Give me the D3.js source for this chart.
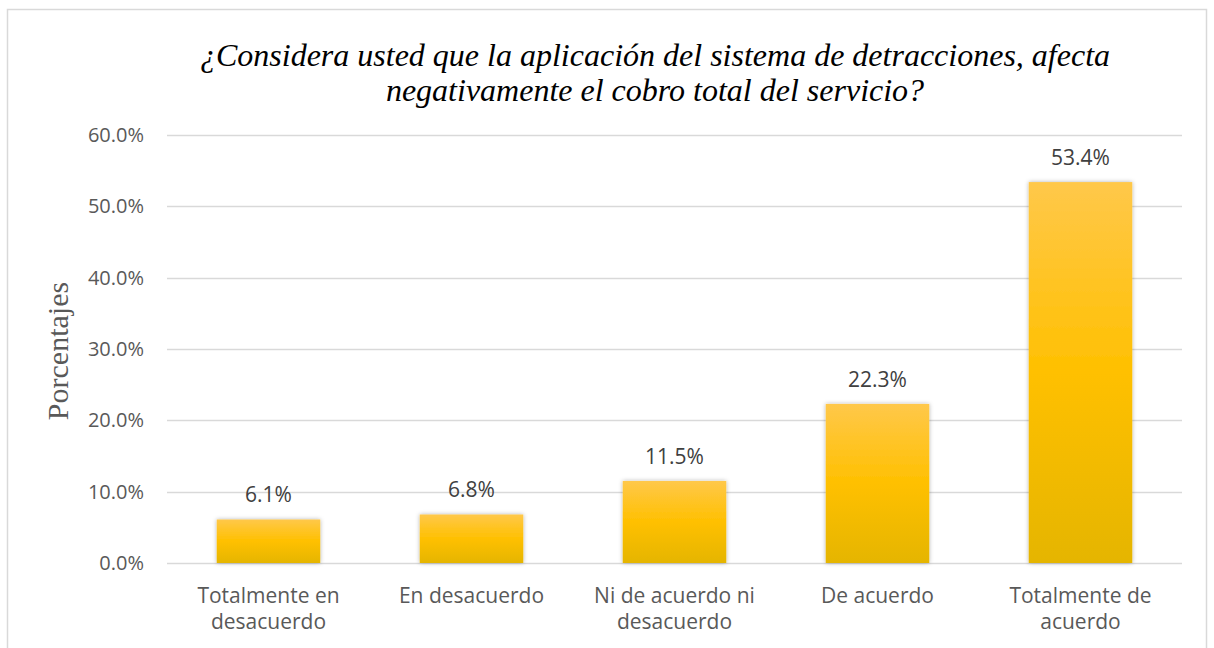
<!DOCTYPE html>
<html>
<head>
<meta charset="utf-8">
<script src="https://cdn.jsdelivr.net/npm/d3@7"></script>
<style>
  body { margin: 0; background: #fff; }
  svg text { font-family: "Open Sans", "Liberation Sans", Arial, sans-serif; }
</style>
</head>
<body>
<div id="root"></div>
<script>
// categorias y valores
const categories = [
    ["Totalmente en", "desacuerdo"],
    ["En desacuerdo"],
    ["Ni de acuerdo ni", "desacuerdo"],
    ["De acuerdo"],
    ["Totalmente de", "acuerdo"]
];
const values = [6.1, 6.8, 11.5, 22.3, 53.4];
const yTicks = [0, 10, 20, 30, 40, 50, 60];
const title = ["¿Considera usted que la aplicación del sistema de detracciones, afecta",
    "negativamente el cobro total del servicio?"];

const W = 1214, H = 648;
const margin = { top: 135, right: 32, bottom: 85, left: 167 };
const width = W - margin.left - margin.right;
const height = H - margin.top - margin.bottom;

const svg = d3.select("#root").append("svg")
    .attr("width", W)
    .attr("height", H);

// borde del grafico
svg.append("rect")
    .attr("x", 7.5).attr("y", 9.5)
    .attr("width", 1199).attr("height", 660)
    .attr("fill", "#fff")
    .attr("stroke", "#d9d9d9")
    .attr("stroke-width", 1.5);

const defs = svg.append("defs");
const grad = defs.append("linearGradient")
    .attr("id", "gold")
    .attr("x1", 0).attr("y1", 0).attr("x2", 0).attr("y2", 1);
grad.append("stop").attr("offset", "0%").attr("stop-color", "#ffc84a");
grad.append("stop").attr("offset", "50%").attr("stop-color", "#ffc000");
grad.append("stop").attr("offset", "100%").attr("stop-color", "#e5b500");

const shadow = defs.append("filter")
    .attr("id", "shadow")
    .attr("x", "-20%").attr("y", "-20%").attr("width", "140%").attr("height", "140%");
shadow.append("feDropShadow")
    .attr("dx", 0).attr("dy", 0)
    .attr("stdDeviation", 2)
    .attr("flood-color", "#000")
    .attr("flood-opacity", 0.3);

const g = svg.append("g")
    .attr("transform", `translate(${margin.left},${margin.top})`);

const x = d3.scaleBand()
    .domain(d3.range(values.length))
    .range([0, width])
    .paddingInner(0.49)
    .paddingOuter(0.245);

const y = d3.scaleLinear()
    .domain([0, 60])
    .range([height, 0]);

// griglia
g.append("g")
    .selectAll("line")
    .data(yTicks)
    .join("line")
    .attr("x1", 0).attr("x2", width)
    .attr("y1", d => Math.round(y(d)) + 0.5)
    .attr("y2", d => Math.round(y(d)) + 0.5)
    .attr("stroke", "#d9d9d9")
    .attr("stroke-width", 1.5);

// asse y
const yAxis = g.append("g")
    .call(d3.axisLeft(y).tickValues(yTicks).tickFormat(d => d.toFixed(1) + "%").tickSize(0).tickPadding(23));
yAxis.select(".domain").remove();
yAxis.selectAll("text")
    .attr("fill", "#595959")
    .style("font-family", "'Open Sans', sans-serif")
    .style("font-size", "20px");

// barre
g.append("g")
    .selectAll("rect")
    .data(values)
    .join("rect")
    .attr("x", (d, i) => x(i))
    .attr("y", d => y(d))
    .attr("width", x.bandwidth())
    .attr("height", d => height - y(d))
    .attr("fill", "url(#gold)")
    .attr("filter", "url(#shadow)");

// etiquetas de valores
g.append("g")
    .selectAll("text")
    .data(values)
    .join("text")
    .attr("x", (d, i) => x(i) + x.bandwidth() / 2)
    .attr("y", d => y(d) - 17)
    .attr("text-anchor", "middle")
    .attr("fill", "#404040")
    .style("font-size", "21px")
    .text(d => d.toFixed(1) + "%");

// etiquetas x
const xl = g.append("g")
    .selectAll("text")
    .data(categories)
    .join("text")
    .attr("x", (d, i) => x(i) + x.bandwidth() / 2)
    .attr("y", height + 40)
    .attr("text-anchor", "middle")
    .attr("fill", "#595959")
    .style("font-size", "21px");
xl.selectAll("tspan")
    .data(d => d)
    .join("tspan")
    .attr("x", function () { return this.parentNode.getAttribute("x"); })
    .attr("dy", (d, i) => i === 0 ? 0 : 26)
    .text(d => d);

// titolo
svg.append("text")
    .attr("x", 655)
    .attr("y", 66)
    .attr("text-anchor", "middle")
    .attr("fill", "#000")
    .style("font-family", "'Liberation Serif', 'Times New Roman', serif")
    .style("font-style", "italic")
    .style("font-size", "32px")
    .selectAll("tspan")
    .data(title)
    .join("tspan")
    .attr("x", 655)
    .attr("dy", (d, i) => i === 0 ? 0 : 35)
    .text(d => d);

// etichetta asse y
svg.append("text")
    .attr("transform", "translate(68,351) rotate(-90)")
    .attr("text-anchor", "middle")
    .attr("fill", "#595959")
    .style("font-family", "'Liberation Serif', 'Times New Roman', serif")
    .style("font-size", "30px")
    .text("Porcentajes");
</script>
</body>
</html>
